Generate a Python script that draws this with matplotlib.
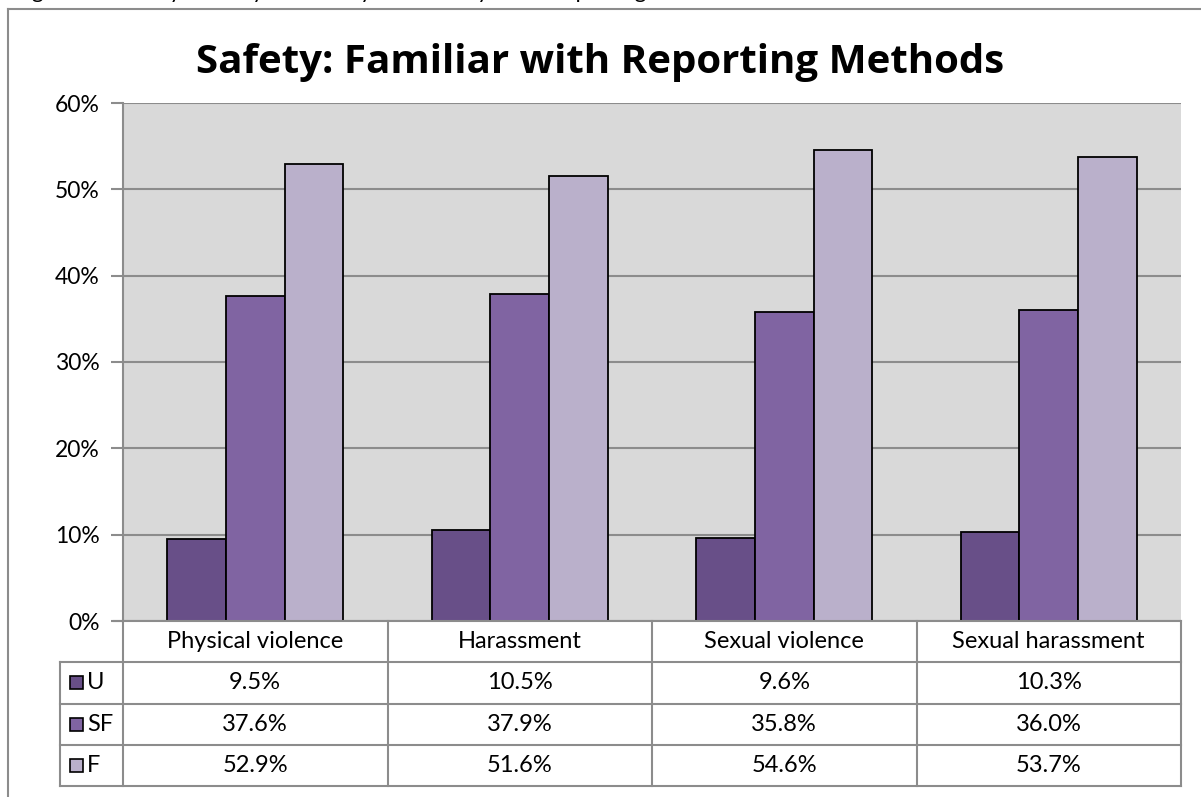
import numpy as np
import matplotlib
matplotlib.use("Agg")
from matplotlib import pyplot as plt
from matplotlib.patches import Rectangle
from matplotlib.lines import Line2D

plt.rcParams["font.family"] = ["Lato", "DejaVu Sans"]

categories = ["Physical violence", "Harassment", "Sexual violence", "Sexual harassment"]
series = ["U", "SF", "F"]
u_vals = [9.5, 10.5, 9.6, 10.3]
sf_vals = [37.6, 37.9, 35.8, 36.0]
f_vals = [52.9, 51.6, 54.6, 53.7]
colors = ["#684f88", "#8064a2", "#bab0cb"]
yticks = [0, 10, 20, 30, 40, 50, 60]

W, H = 1201, 797
fig = plt.figure(figsize=(W / 100, H / 100), dpi=100)


def fx(px):
    return px / W


def fy(py):
    return 1 - py / H


# outer chart frame (partly cut off)
fig.add_artist(Line2D([fx(8), fx(8)], [fy(9), 0], color="#8c8c8c", lw=1.5))
fig.add_artist(Line2D([fx(8), 1], [fy(9), fy(9)], color="#8c8c8c", lw=1.5))

# caption from the page above, only descenders show
fig.text(fx(14), 1 + 1.5 / H, "Figure 16: Safety: Faculty Familiarity with Safety Issue Reporting Methods",
         fontsize=16, va="baseline", ha="left", color="black")

fig.text(0.5, fy(63), "Safety: Familiar with Reporting Methods", ha="center", va="center",
         fontsize=29, fontweight="bold", family=["Open Sans", "DejaVu Sans"])

left, right, top, bottom = 123, 1181, 103, 621
ax = fig.add_axes([fx(left), fy(bottom), fx(right - left), fy(top) - fy(bottom)])
ax.set_facecolor("#d9d9d9")

x = np.arange(len(categories))
bw = 1 / 4.5
for i, vals in enumerate([u_vals, sf_vals, f_vals]):
    ax.bar(x + (i - 1) * bw, vals, bw, color=colors[i], edgecolor="black", linewidth=1.3, zorder=3)

ax.set_xlim(-0.5, len(categories) - 0.5)
ax.set_ylim(0, 60)
ax.set_yticks(yticks)
ax.set_yticklabels([f"{t}%" for t in yticks], fontsize=16.5)
ax.set_xticks([])
ax.grid(axis="y", color="#8c8c8c", lw=1.5, zorder=1)
ax.tick_params(axis="y", length=9, width=1.5, color="#8c8c8c", pad=8)
for s in ["top", "right", "bottom"]:
    ax.spines[s].set_visible(False)
ax.spines["left"].set_color("#8c8c8c")
ax.spines["left"].set_linewidth(1.5)

# data table below the axis
tab_left = 60
row_h = 41.3
rows_y = [bottom + row_h * k for k in range(5)]
col_w = (right - left) / len(categories)
col_x = [left + col_w * k for k in range(len(categories) + 1)]
lc = "#8c8c8c"
lw = 1.5

# horizontal lines
fig.add_artist(Line2D([fx(114), fx(right)], [fy(rows_y[0])] * 2, color=lc, lw=lw))
for k in range(1, 5):
    fig.add_artist(Line2D([fx(tab_left), fx(right)], [fy(rows_y[k])] * 2, color=lc, lw=lw))
# vertical lines
for cx in col_x:
    fig.add_artist(Line2D([fx(cx), fx(cx)], [fy(rows_y[0]), fy(rows_y[4])], color=lc, lw=lw))
fig.add_artist(Line2D([fx(tab_left), fx(tab_left)], [fy(rows_y[1]), fy(rows_y[4])], color=lc, lw=lw))

fs = 17
for j, cat in enumerate(categories):
    cx = (col_x[j] + col_x[j + 1]) / 2
    fig.text(fx(cx), fy((rows_y[0] + rows_y[1]) / 2), cat, ha="center", va="center", fontsize=fs)

for i, (name, vals) in enumerate(zip(series, [u_vals, sf_vals, f_vals])):
    cy = (rows_y[i + 1] + rows_y[i + 2]) / 2
    fig.add_artist(Rectangle((fx(70), fy(cy + 6.5)), fx(13), 13 / H, facecolor=colors[i],
                             edgecolor="black", lw=1.2))
    fig.text(fx(87), fy(cy), name, ha="left", va="center", fontsize=fs)
    for j, v in enumerate(vals):
        cx = (col_x[j] + col_x[j + 1]) / 2
        fig.text(fx(cx), fy(cy), f"{v:.1f}%", ha="center", va="center", fontsize=fs)

fig.savefig("out.png", dpi=100)
